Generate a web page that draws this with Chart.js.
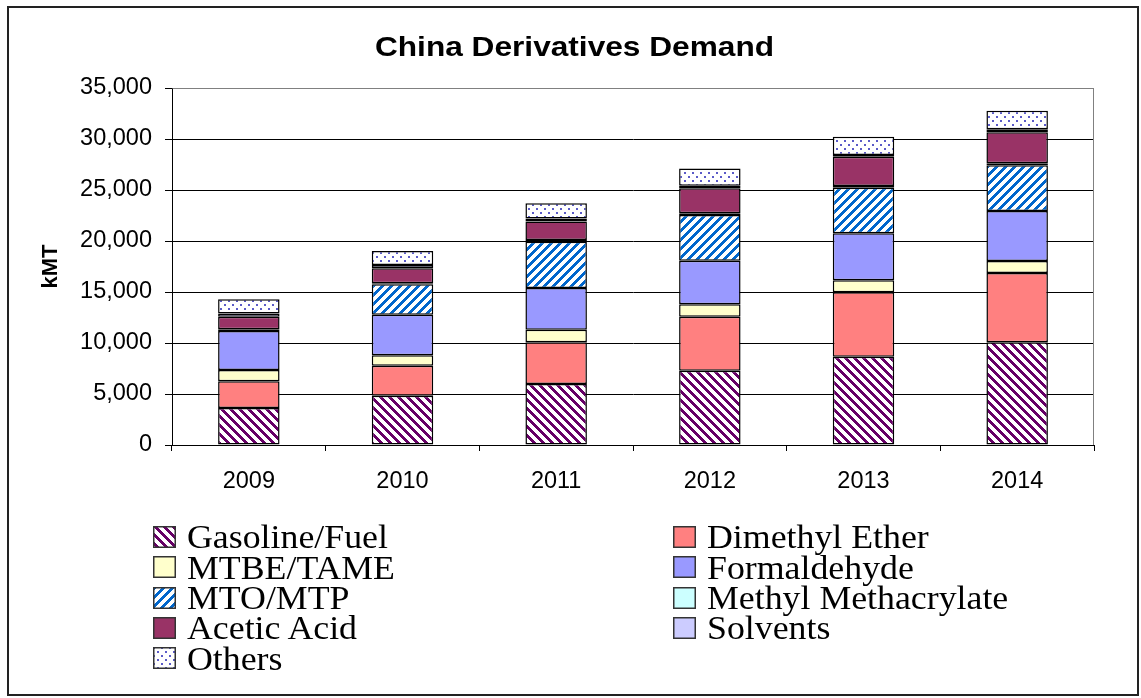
<!DOCTYPE html>
<html>
<head>
<meta charset="utf-8">
<script src="https://cdn.jsdelivr.net/npm/chart.js@4.4.1/dist/chart.umd.min.js"></script>
<style>
  html, body { margin: 0; padding: 0; background: #fff; }
  #wrap { position: relative; width: 1141px; height: 698px; overflow: hidden; background: #fff; }
  #frame { position: absolute; left: 7px; top: 6px; width: 1128px; height: 686px; border: 2px solid #222; }
  #chart { position: absolute; left: 0; top: 0; }
  #title { position: absolute; left: 0; width: 1149px; top: 32px; text-align: center;
           font-family: "Liberation Sans", Arial, sans-serif; font-weight: bold; font-size: 28.5px;
           line-height: 1; color: #000; transform: scaleX(1.11); transform-origin: 574.5px 0; white-space: nowrap; }
  .lg-text { position: absolute; font-family: "Liberation Serif", "Times New Roman", serif; font-size: 33px;
             line-height: 1; color: #000; white-space: nowrap; transform: scaleX(1.085); transform-origin: 0 0; }
  .lg-box { position: absolute; }
</style>
</head>
<body>
<div id="wrap">
  <div id="frame"></div>
  <canvas id="chart" width="1141" height="698"></canvas>
  <div id="title">China Derivatives Demand</div>
  <div id="legend"></div>
</div>
<script>
// ---------- data ----------
const categories = ['2009', '2010', '2011', '2012', '2013', '2014'];
const seriesNames = ['Gasoline/Fuel', 'Dimethyl Ether', 'MTBE/TAME', 'Formaldehyde', 'MTO/MTP',
                     'Methyl Methacrylate', 'Acetic Acid', 'Solvents', 'Others'];
const gasolineFuel       = [3630, 4830, 5980, 7290, 8660, 10070];
const dimethylEther      = [2610, 2950, 4090, 5290, 6310, 6790];
const mtbeTame           = [1110, 1010, 1240, 1210, 1170, 1180];
const formaldehyde       = [3830, 3990, 4080, 4280, 4610, 4900];
const mtoMtp             = [0, 2970, 4540, 4480, 4480, 4480];
const methylMethacrylate = [160, 100, 160, 160, 160, 200];
const aceticAcid         = [1240, 1470, 1810, 2450, 2880, 3030];
const solvents           = [320, 330, 300, 260, 160, 300];
const others             = [1380, 1370, 1500, 1700, 1800, 1830];
const yTickValues        = [0, 5000, 10000, 15000, 20000, 25000, 30000, 35000];

// ---------- patterns ----------
function tileCanvas(size, fn) {
  const c = document.createElement('canvas');
  c.width = size; c.height = size;
  const ctx = c.getContext('2d');
  const img = ctx.createImageData(size, size);
  for (let y = 0; y < size; y++) for (let x = 0; x < size; x++) {
    const col = fn(x, y);
    const i = (y * size + x) * 4;
    img.data[i] = col[0]; img.data[i + 1] = col[1]; img.data[i + 2] = col[2]; img.data[i + 3] = 255;
  }
  ctx.putImageData(img, 0, 0);
  return c;
}
const WHITE = [255, 255, 255];
const tiles = {
  gas: tileCanvas(9, (x, y) => (((x - y) % 9 + 9) % 9) < 4 ? [102, 0, 102] : WHITE),
  mto: tileCanvas(9, (x, y) => ((x + y) % 9) < 4 ? [0, 102, 204] : WHITE),
  dots: tileCanvas(8, (x, y) => {
    const a = (x < 2 && y < 2) || (x >= 4 && x < 6 && y >= 4 && y < 6);
    return a ? [90, 90, 200] : WHITE;
  })
};
function pat(ctx, key) { return ctx.createPattern(tiles[key], 'repeat'); }

const mainCtx = document.getElementById('chart').getContext('2d');
const fills = [
  pat(mainCtx, 'gas'), '#FF8080', '#FFFFCC', '#9999FF', pat(mainCtx, 'mto'),
  '#CCFFFF', '#993366', '#CCCCFF', pat(mainCtx, 'dots')
];
const seriesData = [gasolineFuel, dimethylEther, mtbeTame, formaldehyde, mtoMtp,
                    methylMethacrylate, aceticAcid, solvents, others];

const datasets = seriesNames.map((n, i) => ({
  label: n,
  data: seriesData[i],
  backgroundColor: fills[i],
  borderColor: '#000',
  borderWidth: 1.5,
  borderSkipped: false,
  categoryPercentage: 1.0,
  barPercentage: 0.4
}));

const plotFrame = {
  id: 'plotFrame',
  beforeDatasetsDraw(chart) {
    const a = chart.chartArea, c = chart.ctx;
    c.save();
    c.strokeStyle = '#808080'; c.lineWidth = 1;
    c.beginPath();
    c.moveTo(Math.round(a.left) + 0.5, Math.round(a.top) + 0.5);
    c.lineTo(Math.round(a.right) - 0.5, Math.round(a.top) + 0.5);
    c.lineTo(Math.round(a.right) - 0.5, Math.round(a.bottom));
    c.stroke();
    c.restore();
  }
};

Chart.defaults.font.family = '"Liberation Sans", Arial, sans-serif';
Chart.defaults.color = '#000';

new Chart(mainCtx, {
  type: 'bar',
  data: { labels: categories, datasets },
  plugins: [plotFrame],
  options: {
    responsive: false,
    maintainAspectRatio: false,
    devicePixelRatio: 1,
    animation: false,
    layout: { padding: { top: 88, right: 47, bottom: 193, left: 0 } },
    plugins: { legend: { display: false }, title: { display: false }, tooltip: { enabled: false } },
    scales: {
      x: {
        stacked: true,
        afterFit: s => { s.height = 60; },
        grid: { offset: true, drawOnChartArea: false, drawTicks: true, tickLength: 6, color: '#000' },
        border: { color: '#000', width: 1 },
        ticks: { font: { size: 23.5 }, padding: 16, color: '#000', maxRotation: 0 }
      },
      y: {
        stacked: true,
        min: 0, max: 35000,
        afterFit: s => { s.width = 172; },
        afterBuildTicks: s => { s.ticks = yTickValues.map(v => ({ value: v })); },
        grid: {
          color: c => (c.tick && c.tick.value === 35000) ? '#808080' : '#000',
          tickColor: '#000', tickLength: 7, lineWidth: 1
        },
        border: { color: '#000', width: 1 },
        ticks: {
          font: { size: 23.5 }, padding: 13, color: '#000',
          callback: v => Number(v).toLocaleString('en-US')
        },
        title: {
          display: true, text: 'kMT', color: '#000',
          font: { size: 22, weight: 'bold' }, padding: { top: 38, bottom: 0 }
        }
      }
    }
  }
});

// ---------- legend ----------
const legend = document.getElementById('legend');
const colX = [{ box: 153, text: 187 }, { box: 673, text: 707 }];
seriesNames.forEach((n, i) => {
  const col = i % 2, row = Math.floor(i / 2);
  const boxTop = 526 + row * 30.3;
  const cv = document.createElement('canvas');
  cv.width = 23; cv.height = 22;
  cv.className = 'lg-box';
  cv.style.left = colX[col].box + 'px';
  cv.style.top = Math.round(boxTop) + 'px';
  const c = cv.getContext('2d');
  const f = [pat(c, 'gas'), '#FF8080', '#FFFFCC', '#9999FF', pat(c, 'mto'), '#CCFFFF', '#993366', '#CCCCFF', pat(c, 'dots')][i];
  c.fillStyle = f; c.fillRect(0, 0, 23, 22);
  c.strokeStyle = '#333'; c.lineWidth = 1.5; c.strokeRect(0.75, 0.75, 21.5, 20.5);
  legend.appendChild(cv);
  const t = document.createElement('div');
  t.className = 'lg-text';
  t.textContent = n;
  t.style.left = colX[col].text + 'px';
  t.style.top = (boxTop - 4.6) + 'px';
  legend.appendChild(t);
});
</script>
</body>
</html>
